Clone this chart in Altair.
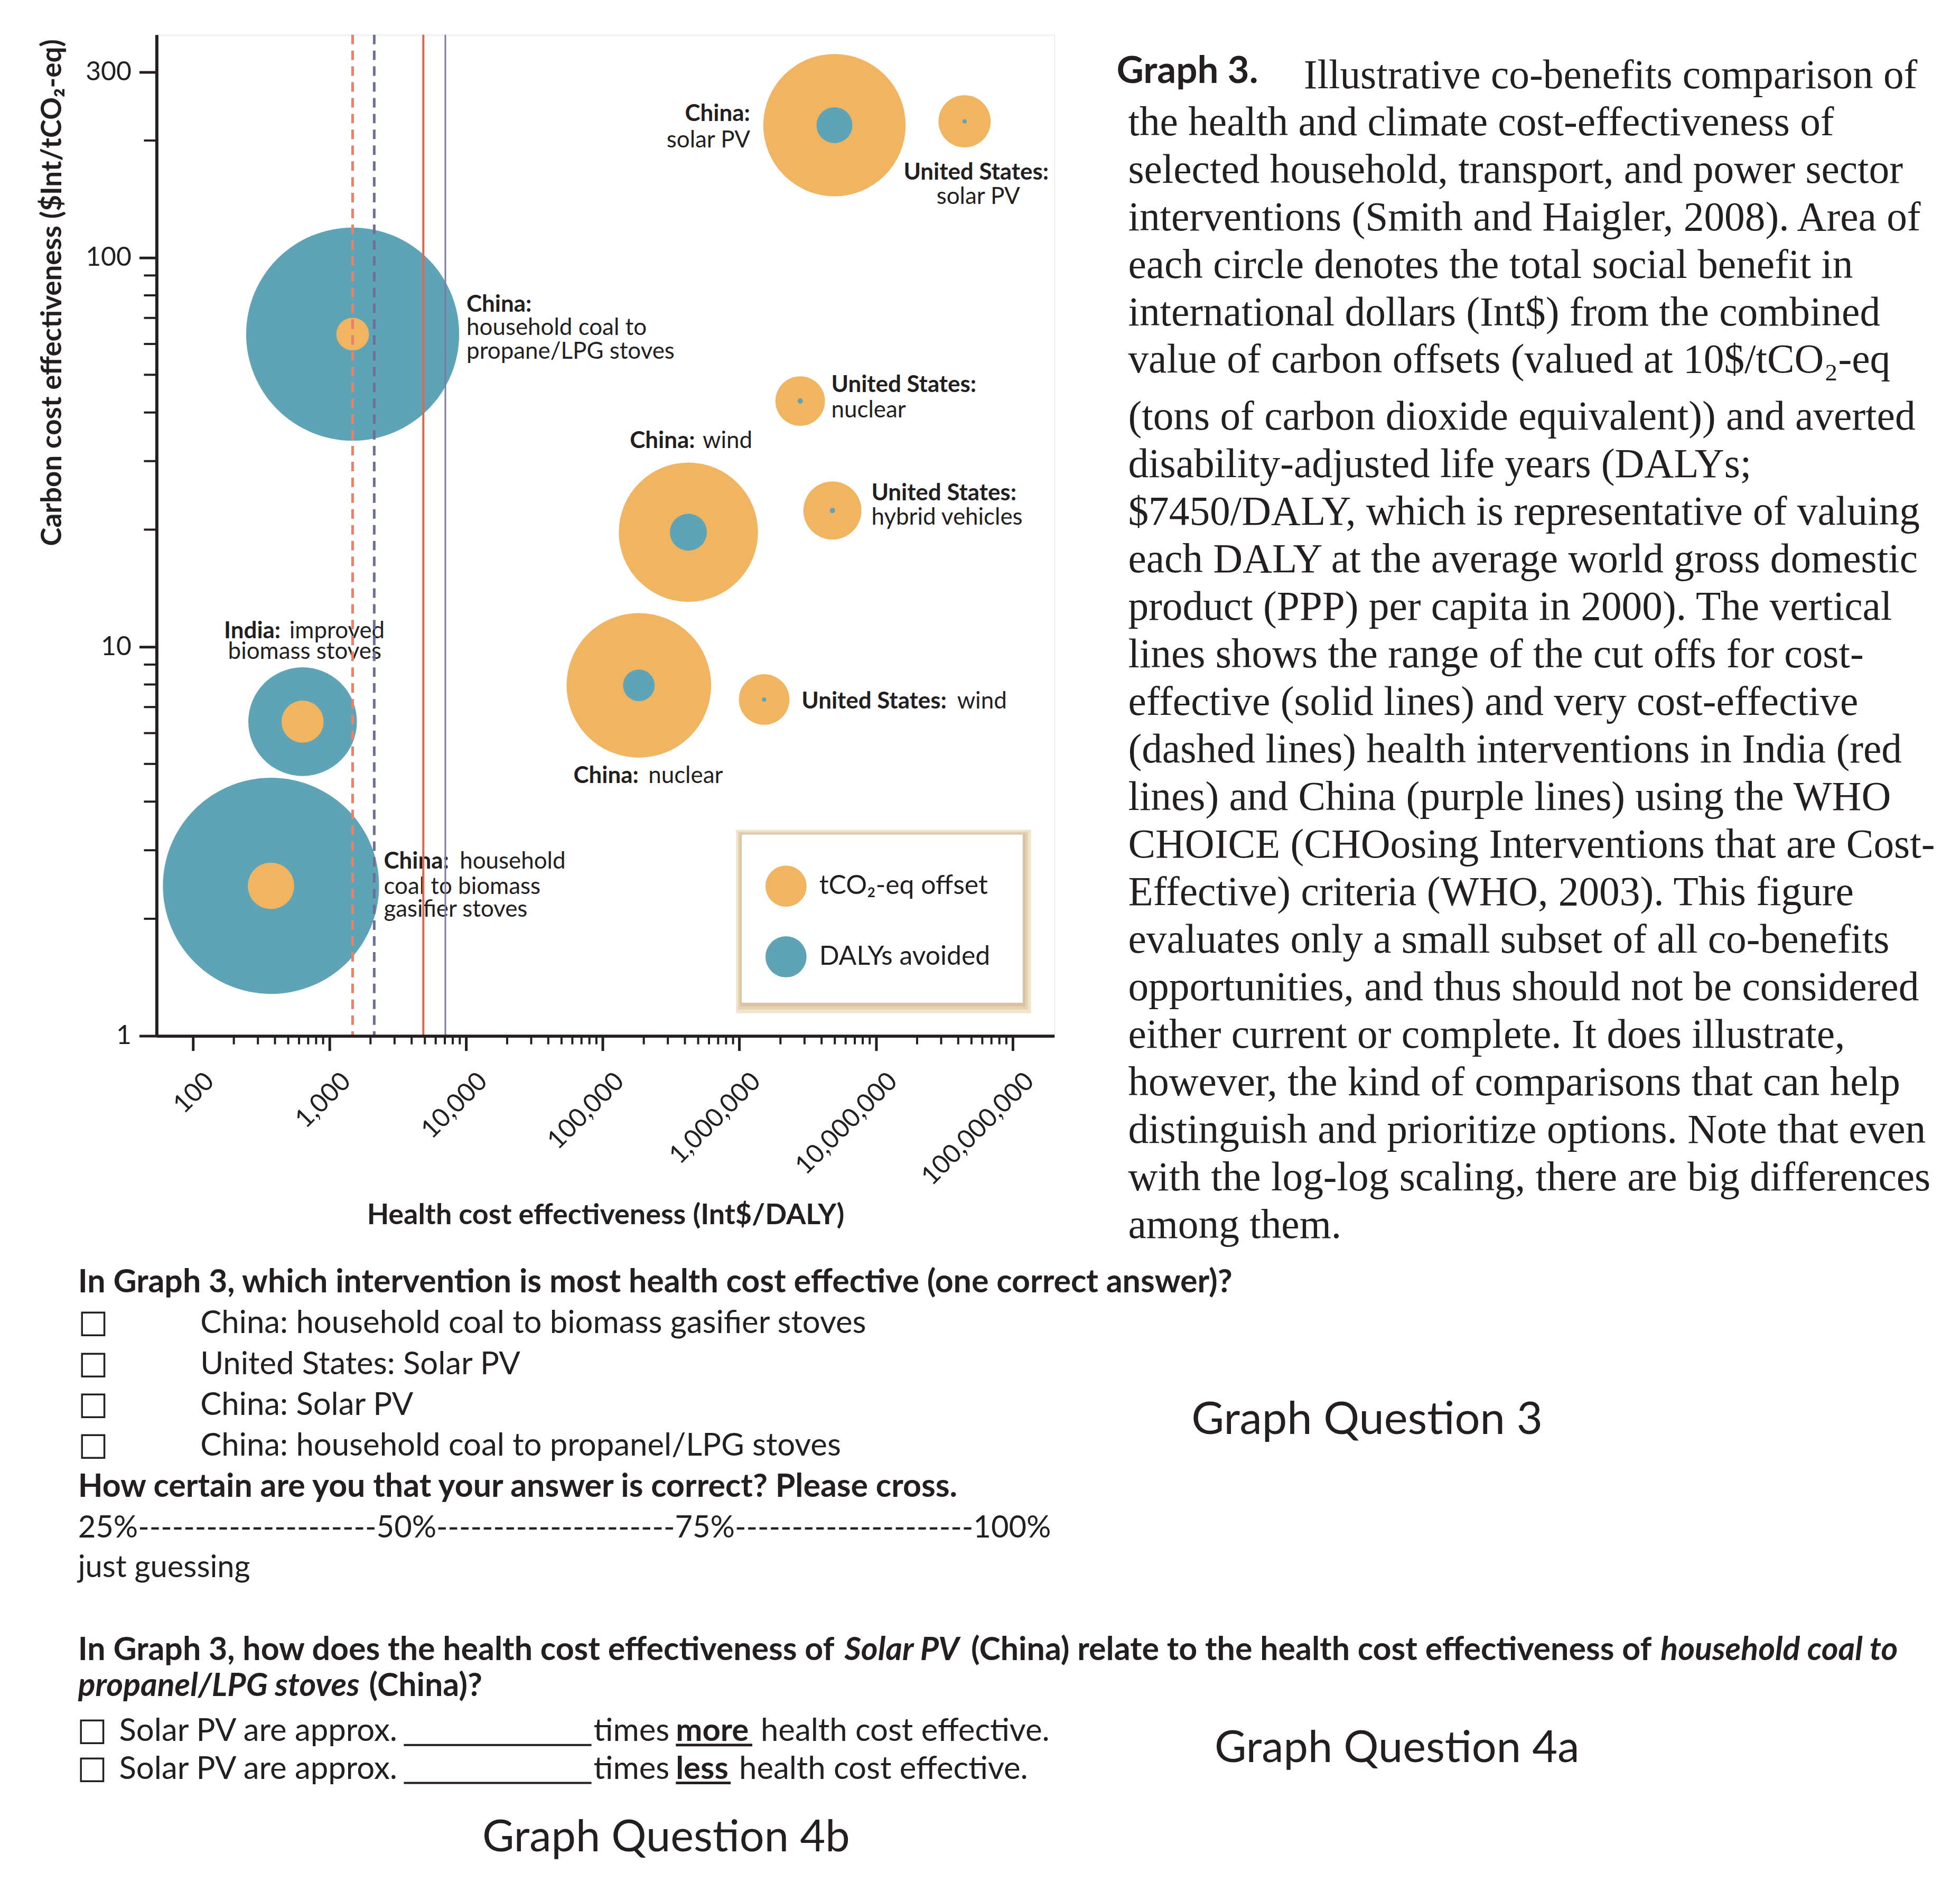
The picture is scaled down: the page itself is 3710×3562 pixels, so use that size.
import altair as alt
import pandas as pd

# ---------------- data ----------------
interventions = [
    "China: household coal to biomass gasifier stoves",
    "China: household coal to propane/LPG stoves",
    "India: improved biomass stoves",
    "China: solar PV",
    "United States: solar PV",
    "United States: nuclear",
    "China: wind",
    "United States: hybrid vehicles",
    "China: nuclear",
    "United States: wind",
]
# Health cost effectiveness (Int$/DALY)
health_ce = [374, 1481, 637, 4.97e6, 4.45e7, 2.79e6, 4.24e5, 4.8e6, 1.84e5, 1.52e6]
# Carbon cost effectiveness ($Int/tCO2-eq)
carbon_ce = [2.43, 63.6, 6.42, 219, 224, 42.8, 19.7, 22.4, 7.96, 7.32]
# relative social benefit (circle area) of averted DALYs and of carbon offsets
dalys_benefit = [420, 408, 106, 11.6, 0.16, 0.25, 12.3, 0.25, 9.0, 0.16]
offset_benefit = [19.4, 9.6, 16.0, 182, 24.5, 22.1, 174, 30.3, 188, 23.0]

kind_names = ["tCO\u2082-eq offset", "DALYs avoided"]

india_very_ce = [1480]
china_very_ce = [2130]
india_ce = [4870]
china_ce = [7060]

x_ticks = [100, 1000, 10000, 100000, 1000000, 10000000, 100000000]
y_ticks = [1, 10, 100, 300]
x_minor = [m * 10 ** e for e in range(2, 8) for m in range(2, 10)]
y_minor = [m * 10 ** e for e in range(0, 2) for m in range(2, 10)] + [200]

# ---------------- styling / layout ----------------
W, H = 1703, 1899          # plot area
PX0, PY0 = 297, 62         # plot origin on the page
INK = "#231F20"
BG = "#FBE3BE"
ORANGE = "#F1B460"
BLUE = "#5FA3B7"
SANS = "Lato"
SERIF = "Liberation Serif"

xscale = alt.Scale(type="log", domain=[54.4, 2.02e8])
yscale = alt.Scale(type="log", domain=[1, 374])

xaxis = alt.Axis(
    values=x_ticks, format=",d", labelAngle=315, labelAlign="right",
    labelBaseline="middle", labelOffset=32, labelPadding=50, labelFont=SANS,
    labelFontSize=49, labelColor=INK, labelLimit=1000, tickSize=28, tickWidth=5, tickColor=INK,
    domainColor=INK, domainWidth=6, grid=False, labelOverlap=False,
    labelFlush=False, labelBound=False, titleFont=SANS, titleFontSize=54,
    titleFontWeight="bold", titleColor=INK, titleY=357, titleBaseline="alphabetic",
    zindex=1,
)
yaxis = alt.Axis(
    values=y_ticks, format="d", labelFont=SANS, labelFontSize=50, labelColor=INK,
    labelPadding=15, labelBaseline="middle", tickSize=33, tickWidth=5, tickColor=INK,
    domainColor=INK, domainWidth=6, grid=False, labelOverlap=False,
    labelFlush=False, labelBound=False, titleFont=SANS, titleFontSize=53,
    titleFontWeight="bold", titleColor=INK, titleAngle=270, titleAlign="right",
    titleBaseline="middle", titleX=-197, titleY=8, titleLimit=2000, zindex=1,
)
X = alt.X("health:Q", scale=xscale, axis=xaxis, title="Health cost effectiveness (Int$/DALY)")
Y = alt.Y("carbon:Q", scale=yscale, axis=yaxis, title="Carbon cost effectiveness ($Int/tCO\u2082-eq)")

rows = []
for i, name in enumerate(interventions):
    rows.append(dict(name=name, health=health_ce[i], carbon=carbon_ce[i], kind=kind_names[1], benefit=dalys_benefit[i]))
    rows.append(dict(name=name, health=health_ce[i], carbon=carbon_ce[i], kind=kind_names[0], benefit=offset_benefit[i]))
circles_df = pd.DataFrame(rows)

legend = alt.Legend(
    title=None, orient="none", legendX=1155, legendY=1576, fillColor="transparent",
    padding=0, rowPadding=56, symbolType="circle", symbolSize=6084,
    symbolStrokeWidth=0, symbolOpacity=1, labelFont=SANS, labelFontSize=50,
    labelColor=INK, labelOffset=24, labelLimit=800,
)

circles = alt.Chart(circles_df).mark_circle(opacity=1, strokeWidth=0).encode(
    x=X, y=Y,
    # Vega symbol size is the squared diameter
    size=alt.Size("benefit:Q", scale=alt.Scale(domain=[0, 420], range=[0, 168100]), legend=None),
    color=alt.Color("kind:N", scale=alt.Scale(domain=kind_names, range=[ORANGE, BLUE]), legend=legend),
    order=alt.Order("benefit:Q", sort="descending"),
)

layers = [circles]

# annotation labels anchored to the circles (offsets in px)
label_specs = [
    (0, "China:", "bold", "left", 214, -33),
    (0, "household", "normal", "left", 358, -33),
    (0, "coal to biomass", "normal", "left", 214, 15),
    (0, "gasifier stoves", "normal", "left", 214, 59),
    (1, "China:", "bold", "left", 216, -42),
    (1, "household coal to", "normal", "left", 216, 2),
    (1, "propane/LPG stoves", "normal", "left", 216, 47),
    (2, "India:", "bold", "left", -149, -158),
    (2, "improved", "normal", "left", -25, -158),
    (2, "biomass stoves", "normal", "center", 4, -119),
    (3, "China:", "bold", "right", -160, -8),
    (3, "solar PV", "normal", "right", -160, 42),
    (4, "United States:", "bold", "center", 22, 111),
    (4, "solar PV", "normal", "center", 26, 157),
    (5, "United States:", "bold", "left", 59, -17),
    (5, "nuclear", "normal", "left", 59, 31),
    (6, "China:", "bold", "left", -111, -160),
    (6, "wind", "normal", "left", 27, -160),
    (7, "United States:", "bold", "left", 74, -19),
    (7, "hybrid vehicles", "normal", "left", 74, 27),
    (8, "China:", "bold", "left", -124, 185),
    (8, "nuclear", "normal", "left", 18, 185),
    (9, "United States:", "bold", "left", 71, 17),
    (9, "wind", "normal", "left", 366, 17),
]
for idx, text, weight, align, dx, dy in label_specs:
    d = pd.DataFrame({"health": [health_ce[idx]], "carbon": [carbon_ce[idx]]})
    layers.append(
        alt.Chart(d).mark_text(
            text=text, font=SANS, fontSize=44, fontWeight=weight, align=align,
            baseline="alphabetic", dx=dx, dy=dy, color=INK,
        ).encode(x=X, y=Y)
    )

# cut-off lines
def vline(vals, color, width, dash=None):
    kw = dict(color=color, strokeWidth=width)
    if dash:
        kw["strokeDash"] = dash
    return alt.Chart(pd.DataFrame({"health": vals})).mark_rule(**kw).encode(x=X)

layers += [
    vline(india_very_ce, "#E9806B", 5, [18, 12]),
    vline(china_very_ce, "#6D6F9B", 5, [18, 12]),
    vline(india_ce, "#E2654F", 4),
    vline(china_ce, "#7A7BA6", 3),
]

# minor ticks
layers.append(
    alt.Chart(pd.DataFrame({"health": x_minor})).mark_rule(color=INK, strokeWidth=4).encode(
        x=X, y=alt.value(H), y2=alt.value(H + 16))
)
layers.append(
    alt.Chart(pd.DataFrame({"carbon": y_minor})).mark_rule(color=INK, strokeWidth=4).encode(
        y=Y, x=alt.value(0), x2=alt.value(-24))
)

ONE = alt.Data(values=[{"k": 0}])

def rect(x1, y1, x2, y2, color, op=1.0):
    return alt.Chart(ONE).mark_rect(color=color, opacity=op).encode(
        x=alt.value(x1 - PX0), x2=alt.value(x2 - PX0), y=alt.value(y1 - PY0), y2=alt.value(y2 - PY0))

# legend box with soft shadow
layers += [
    rect(1396, 1570, 1956, 1918, "#EAD3AE", 0.6),
    rect(1400, 1574, 1950, 1911, "#DCC5A1", 0.6),
    rect(1404, 1577, 1945, 1905, "#CBB491", 0.5),
    rect(1407, 1579, 1940, 1898, "white"),
]

def ptext(text, px, py, size, font=SANS, weight="normal", style="normal", align="left", lh=None):
    kw = dict(text=text, fontSize=size, font=font, fontWeight=weight, fontStyle=style,
              align=align, baseline="alphabetic", color=INK)
    if lh:
        kw["lineHeight"] = lh
    return alt.Chart(ONE).mark_text(**kw).encode(x=alt.value(px - PX0), y=alt.value(py - PY0))

def hrule(x1, x2, py, w=4):
    return alt.Chart(ONE).mark_rule(color=INK, strokeWidth=w).encode(
        x=alt.value(x1 - PX0), x2=alt.value(x2 - PX0), y=alt.value(py - PY0))

caption_a = [
    "the health and climate cost-effectiveness of",
    "selected household, transport, and power sector",
    "interventions (Smith and Haigler, 2008). Area of",
    "each circle denotes the total social benefit in",
    "international dollars (Int$) from the combined",
    "value of carbon offsets (valued at 10$/tCO\u2082-eq",
]
caption_b = [
    "(tons of carbon dioxide equivalent)) and averted",
    "disability-adjusted life years (DALYs;",
    "$7450/DALY, which is representative of valuing",
    "each DALY at the average world gross domestic",
    "product (PPP) per capita in 2000). The vertical",
    "lines shows the range of the cut offs for cost-",
    "effective (solid lines) and very cost-effective",
    "(dashed lines) health interventions in India (red",
    "lines) and China (purple lines) using the WHO",
    "CHOICE (CHOosing Interventions that are Cost-",
    "Effective) criteria (WHO, 2003). This figure",
    "evaluates only a small subset of all co-benefits",
    "opportunities, and thus should not be considered",
    "either current or complete. It does illustrate,",
    "however, the kind of comparisons that can help",
    "distinguish and prioritize options. Note that even",
    "with the log-log scaling, there are big differences",
    "among them.",
]
layers += [
    ptext("Graph 3.", 2118, 153, 71, weight="bold"),
    ptext("Illustrative co-benefits comparison of", 2473, 163, 77.5, font=SERIF),
    ptext(caption_a, 2140, 253, 77.5, font=SERIF, lh=90),
    ptext(caption_b, 2140, 811, 77.5, font=SERIF, lh=90.2),
]

# question 3
options = [
    "China: household coal to biomass gasifier stoves",
    "United States: Solar PV",
    "China: Solar PV",
    "China: household coal to propanel/LPG stoves",
]
QB = 61  # bold question size
layers.append(ptext("In Graph 3, which intervention is most health cost effective (one correct answer)?", 148, 2447, QB, weight="bold"))
for opt, base in zip(options, [2525, 2603, 2680, 2757]):
    layers.append(ptext("\u2610", 148, base + 6, 64, font="DejaVu Sans"))
    layers.append(ptext(opt, 380, base, 60))
dash = "-" * 21
layers += [
    ptext("How certain are you that your answer is correct? Please cross.", 148, 2835, QB, weight="bold"),
    ptext("25%" + dash + "50%" + dash + "75%" + dash + "100%", 148, 2912, 58),
    ptext("just guessing", 148, 2988, 58),
    ptext("Graph Question 3", 2260, 2716, 85),
]

# question 4
layers += [
    ptext("In Graph 3, how does the health cost effectiveness of", 148, 3145, QB, weight="bold"),
    ptext("Solar PV", 1602, 3145, QB, weight="bold", style="italic"),
    ptext("(China) relate to the health cost effectiveness of", 1842, 3145, QB, weight="bold"),
    ptext("household coal to", 3150, 3145, QB, weight="bold", style="italic"),
    ptext("propanel/LPG stoves", 148, 3213, QB, weight="bold", style="italic"),
    ptext("(China)?", 700, 3213, QB, weight="bold"),
]
for base, word, wx2, rest_x in [(3298, "more", 1427, 1443), (3370, "less", 1386, 1402)]:
    layers += [
        ptext("\u2610", 146, base + 6, 64, font="DejaVu Sans"),
        ptext("Solar PV are approx.", 226, base, 60),
        hrule(766, 1122, base + 8, 4),
        ptext("times", 1126, base, 60),
        ptext(word, 1282, base, 60, weight="bold"),
        hrule(1282, wx2, base + 8, 5),
        ptext("health cost effective.", rest_x, base, 60),
    ]
layers += [
    ptext("Graph Question 4a", 2304, 3338, 83),
    ptext("Graph Question 4b", 915, 3508, 83),
]

chart = alt.layer(*layers).properties(
    width=W, height=H,
    padding={"left": PX0 - 8, "top": PY0 - 8, "right": 3710 - 8 - (PX0 - 8) - W, "bottom": 3562 - 8 - (PY0 - 8) - H},
    autosize=alt.AutoSizeParams(type="none"),
).configure_view(fill=BG, stroke=None).configure(background="white")

chart.save("out.html", embed_options={"renderer": "svg", "actions": False})
